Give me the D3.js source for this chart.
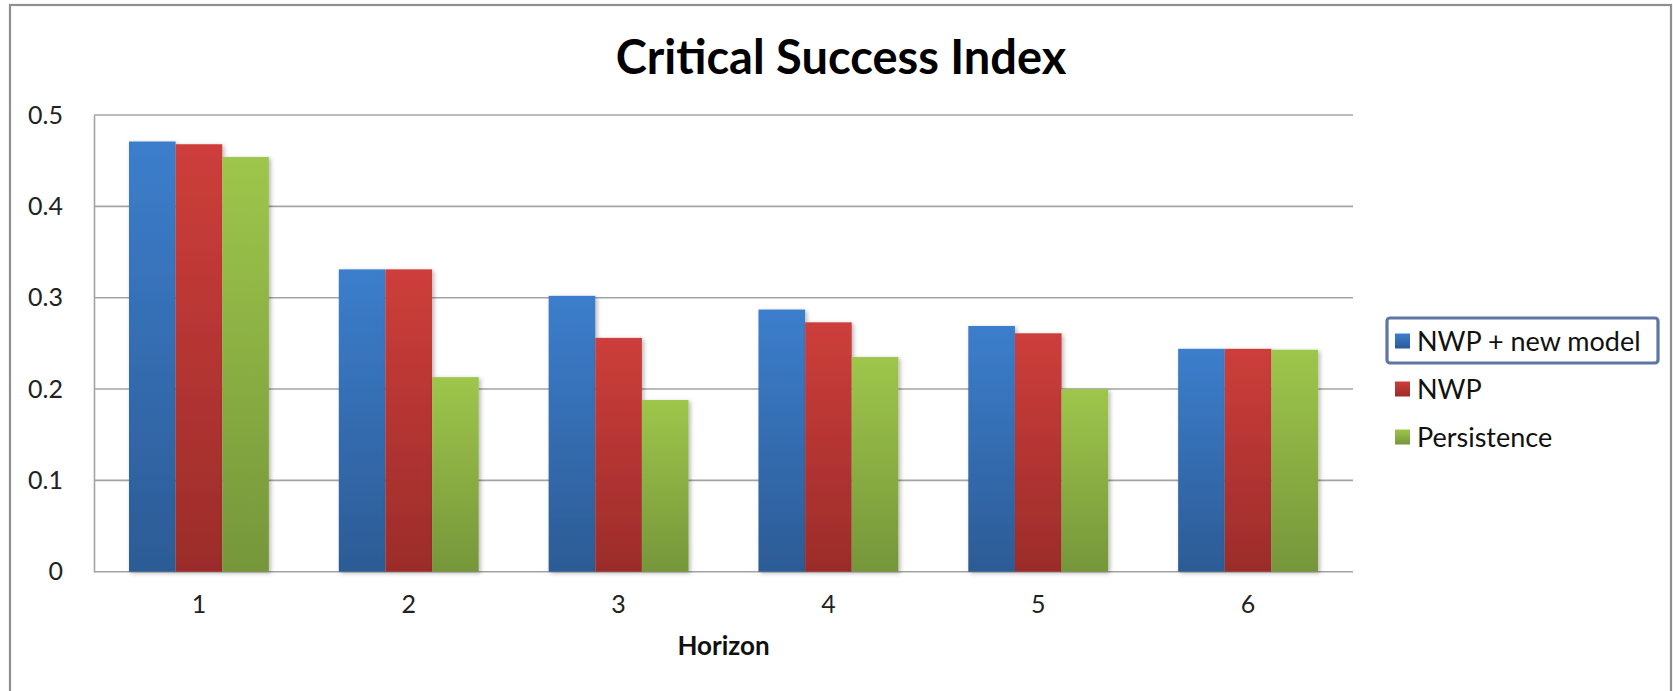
<!DOCTYPE html>
<html>
<head>
<meta charset="utf-8">
<script src="https://cdn.jsdelivr.net/npm/d3@7/dist/d3.min.js"></script>
<style>
  html, body { margin: 0; padding: 0; background: #ffffff; }
  svg { display: block; font-family: Lato, "Open Sans", "DejaVu Sans", sans-serif; }
</style>
</head>
<body>
<svg id="chart" width="1673" height="691"></svg>
<script>
// Critical Success Index per forecast horizon
const horizons = ["1", "2", "3", "4", "5", "6"];
const seriesNames = ["NWP + new model", "NWP", "Persistence"];
const newModel = [0.471, 0.331, 0.302, 0.287, 0.269, 0.244];
const nwp = [0.468, 0.331, 0.256, 0.273, 0.261, 0.244];
const persistence = [0.454, 0.213, 0.188, 0.235, 0.200, 0.243];
const yTicks = [0, 0.1, 0.2, 0.3, 0.4, 0.5];
const yTickLabels = ["0", "0.1", "0.2", "0.3", "0.4", "0.5"];

const seriesValues = [newModel, nwp, persistence];
const colors = [
  { top: "#3c7ecc", bottom: "#2c5b95" },
  { top: "#cd3e3b", bottom: "#9b2c2a" },
  { top: "#9ec64b", bottom: "#76963a" }
];

const svg = d3.select("#chart");
const W = 1673, H = 691;

svg.append("rect").attr("width", W).attr("height", H).attr("fill", "#ffffff");

// outer chart frame (bottom edge runs past the page)
svg.append("rect")
  .attr("x", 10).attr("y", 5)
  .attr("width", 1661).attr("height", 720)
  .attr("fill", "none").attr("stroke", "#8f8f8f").attr("stroke-width", 2.2);

const plot = { left: 94, right: 1353, top: 115, bottom: 571.7 };

const defs = svg.append("defs");
colors.forEach((c, i) => {
  const g = defs.append("linearGradient")
    .attr("id", "grad" + i).attr("x1", 0).attr("y1", 0).attr("x2", 0).attr("y2", 1);
  g.append("stop").attr("offset", "0%").attr("stop-color", c.top);
  g.append("stop").attr("offset", "100%").attr("stop-color", c.bottom);
});
const shadow = defs.append("filter").attr("id", "barShadow")
  .attr("x", "-20%").attr("y", "-5%").attr("width", "150%").attr("height", "115%");
shadow.append("feDropShadow")
  .attr("dx", 2).attr("dy", 1.5).attr("stdDeviation", 2)
  .attr("flood-color", "#000").attr("flood-opacity", 0.28);

const y = d3.scaleLinear().domain([0, 0.5]).range([plot.bottom, plot.top]);
const x0 = d3.scaleBand().domain(horizons).range([plot.left, plot.right]).padding(0);
const bw = x0.bandwidth();
const x1 = d3.scaleBand().domain(seriesNames).range([bw / 6, bw * 5 / 6]).padding(0);

// horizontal gridlines
svg.append("g").selectAll("line")
  .data(yTicks)
  .join("line")
  .attr("x1", plot.left).attr("x2", plot.right)
  .attr("y1", d => y(d)).attr("y2", d => y(d))
  .attr("stroke", "#a3a3a3").attr("stroke-width", 1.6);

// y axis
const yAxis = svg.append("g")
  .attr("transform", `translate(${plot.left},0)`)
  .call(d3.axisLeft(y).tickValues(yTicks).tickSize(0).tickPadding(31)
    .tickFormat((d, i) => yTickLabels[i]));
yAxis.select(".domain").attr("stroke", "#a3a3a3").attr("stroke-width", 1.6);
yAxis.selectAll("text")
  .attr("font-size", 25).attr("fill", "#222").attr("font-family", "Lato, sans-serif");

// bars
const groups = svg.append("g").selectAll("g")
  .data(horizons)
  .join("g")
  .attr("transform", d => `translate(${x0(d)},0)`);

groups.selectAll("rect")
  .data((h, hi) => seriesNames.map((s, si) => ({ s, si, v: seriesValues[si][hi] })))
  .join("rect")
  .attr("x", d => x1(d.s))
  .attr("width", x1.bandwidth())
  .attr("y", d => y(d.v))
  .attr("height", d => y(0) - y(d.v))
  .attr("fill", d => `url(#grad${d.si})`)
  .attr("filter", "url(#barShadow)");

// x axis
const xAxis = svg.append("g")
  .attr("transform", `translate(0,${plot.bottom})`)
  .call(d3.axisBottom(x0).tickSize(0).tickPadding(24));
xAxis.select(".domain").remove();
xAxis.selectAll("text")
  .attr("font-size", 25).attr("fill", "#222").attr("font-family", "Lato, sans-serif");

// title
svg.append("text")
  .attr("x", 841).attr("y", 74)
  .attr("text-anchor", "middle")
  .attr("font-size", 47).attr("font-weight", "bold").attr("fill", "#000")
  .text("Critical Success Index");

// x axis title
svg.append("text")
  .attr("x", (plot.left + plot.right) / 2).attr("y", 655)
  .attr("text-anchor", "middle")
  .attr("font-size", 26).attr("font-weight", "bold").attr("fill", "#111")
  .text("Horizon");

// legend
const legend = svg.append("g").attr("transform", "translate(1395,0)");
const rowY = [341, 389, 437];
legend.append("rect")
  .attr("x", -8).attr("y", 318).attr("width", 271).attr("height", 45)
  .attr("rx", 3).attr("fill", "none")
  .attr("stroke", "#5f76a3").attr("stroke-width", 3.2);
const items = legend.selectAll("g.item")
  .data(seriesNames)
  .join("g").attr("class", "item")
  .attr("transform", (d, i) => `translate(0,${rowY[i]})`);
items.append("rect")
  .attr("x", 0).attr("y", -7.5).attr("width", 15).attr("height", 15)
  .attr("fill", (d, i) => `url(#grad${i})`);
items.append("text")
  .attr("x", 22).attr("y", 0).attr("dy", "0.36em")
  .attr("font-size", 27).attr("fill", "#111")
  .text(d => d);
</script>
</body>
</html>
